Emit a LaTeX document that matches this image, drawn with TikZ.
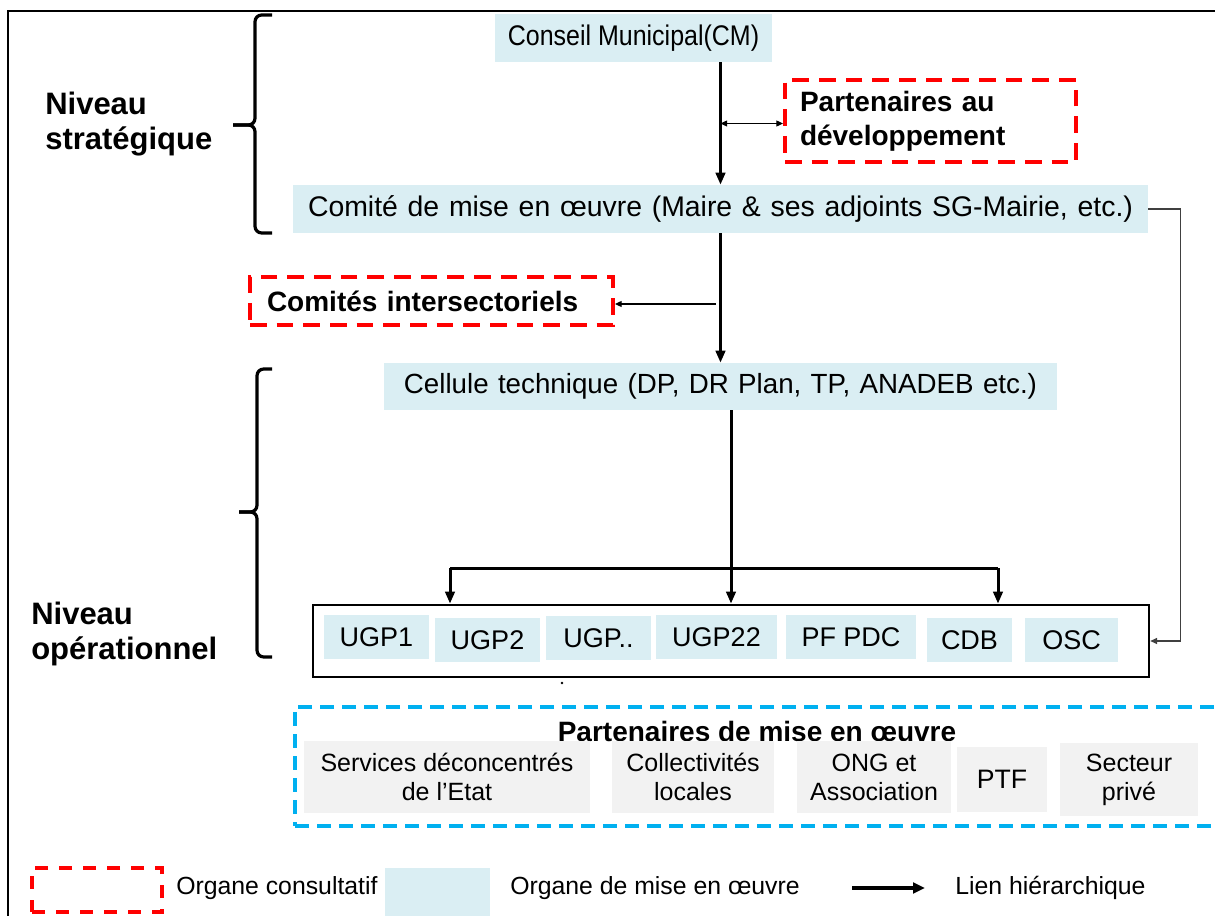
\documentclass[tikz,border=0pt]{standalone}
\usepackage{fontspec}
\setmainfont{Liberation Sans}
\usetikzlibrary{arrows.meta,calc}
\definecolor{implblue}{HTML}{DAEEF3}
\definecolor{partgray}{HTML}{F2F2F2}
\definecolor{consred}{HTML}{FF0000}
\definecolor{partcyan}{HTML}{00B0F0}
\definecolor{linkgray}{HTML}{404040}
\tikzset{
  impl/.style={fill=implblue, draw=none, inner sep=0pt, font=\fontsize{21.3}{25}\selectfont},
  cons/.style={draw=consred, line width=3pt, dash pattern=on 12.5pt off 7.5pt, inner sep=0pt,
    font=\bfseries\fontsize{21}{25.5}\selectfont},
  ugpitem/.style={fill=implblue, draw=none, inner sep=0pt, font=\fontsize{20.25}{24}\selectfont},
  partbox/.style={fill=partgray, draw=none, inner sep=0pt, align=center,
    font=\fontsize{18.75}{21.75}\selectfont},
  harrow/.style={line width=2.25pt, -{Triangle[length=9pt,width=7pt]}},
  tarrow/.style={line width=0.9pt, -{Triangle[length=5pt,width=4.5pt]}},
  tdarrow/.style={line width=0.9pt, {Triangle[length=5pt,width=4.5pt]}-{Triangle[length=5pt,width=4.5pt]}},
  bracestyle/.style={line width=2.4pt, rounded corners=5pt},
  levellabel/.style={anchor=west, align=left, inner sep=0pt, font=\bfseries\fontsize{23.25}{26.25}\selectfont},
  legendtext/.style={anchor=west, inner sep=0pt, font=\fontsize{18.6}{22}\selectfont}
}
\begin{document}
\begin{tikzpicture}[x=0.75pt,y=-0.75pt]
\useasboundingbox (0,0) rectangle (1215,916);
\fill[white] (0,0) rectangle (1215,916);
% outer frame
\draw[line width=1.6pt] (8,916) -- (8,11) -- (1215,11);

% braces and level labels
\draw[bracestyle] (272,15) -- (255,15) -- (255,125) -- (233,125);
\draw[bracestyle] (233,125) -- (255,125) -- (255,233) -- (272,233);
\node[levellabel] (strat) at (45,124) {Niveau\\strat\'egique};

\draw[bracestyle] (272,369) -- (257,369) -- (257,512) -- (239,512);
\draw[bracestyle] (239,512) -- (257,512) -- (257,657) -- (272,657);
\node[levellabel] (oper) at (31,634) {Niveau\\op\'erationnel};

% strategic boxes
\node[impl, minimum width=277*0.75pt, minimum height=48*0.75pt] (cm) at (633.5,38) {\scalebox{0.88}[1]{Conseil Municipal(CM)}};
\node[cons, minimum width=291*0.75pt, minimum height=82*0.75pt, text width=261*0.75pt, align=left] (pad) at (930.5,121) {Partenaires au\\d\'eveloppement};
\node[impl, minimum width=855*0.75pt, minimum height=48*0.75pt] (com) at (720.5,209) {\spaceskip=7.3pt plus 1pt\relax Comit\'e de mise en œuvre (Maire \& ses adjoints SG-Mairie, etc.)};
\node[cons, minimum width=363*0.75pt, minimum height=48*0.75pt, text width=329*0.75pt, align=left] (ci) at (431.5,301) {Comit\'es intersectoriels};
\node[impl, font=\fontsize{20.8}{25}\selectfont, minimum width=673*0.75pt, minimum height=47*0.75pt] (cel) at (720.5,386.5) {\spaceskip=7pt plus 1pt\relax Cellule technique (DP, DR Plan, TP, ANADEB etc.)};

% operational container and items
\node[draw=black, line width=2pt, minimum width=836*0.75pt, minimum height=72*0.75pt, inner sep=0pt] (ugp) at (731,641) {};
\node[ugpitem, minimum width=105*0.75pt, minimum height=44*0.75pt] (u1) at (376.5,637) {UGP1};
\node[ugpitem, minimum width=105*0.75pt, minimum height=44*0.75pt] (u2) at (487.5,640) {UGP2};
\node[ugpitem, minimum width=105*0.75pt, minimum height=44*0.75pt] (u3) at (598.5,638) {UGP..};
\node[ugpitem, minimum width=121*0.75pt, minimum height=44*0.75pt] (u4) at (716.5,637) {UGP22};
\node[ugpitem, minimum width=130*0.75pt, minimum height=44*0.75pt] (u5) at (851,637) {PF PDC};
\node[ugpitem, minimum width=85*0.75pt, minimum height=44*0.75pt] (u6) at (969.5,640) {CDB};
\node[ugpitem, minimum width=93*0.75pt, minimum height=44*0.75pt] (u7) at (1071.5,640) {OSC};
\fill (562,683) circle (1pt);

% connectors
\coordinate (cmfoot) at (cm.south -| com.north);
\draw[harrow] (cmfoot) -- (com.north);
\coordinate (j1) at ($(cmfoot)!0.5!(com.north)$);
\draw[tdarrow] (j1) -- (j1 -| pad.west);
\draw[harrow] (com.south) -- (com.south |- cel.north);
\coordinate (j2) at (716,304);
\draw[tarrow] (j2) -- (j2 -| ci.east);
\draw[harrow] (cel.south -| ugp.north) -- (ugp.north);
\coordinate (bl) at (450,568);
\coordinate (br) at (998,568);
\draw[line width=2.25pt] (bl) -- (br);
\draw[harrow] (bl) -- (bl |- ugp.north);
\draw[harrow] (br) -- (br |- ugp.north);
\draw[tarrow, draw=linkgray] (com.east) -- ++(32,0) |- (ugp.east);

% implementation partners
\node[draw=partcyan, line width=2.3pt, dash pattern=on 10.5pt off 6pt, minimum width=950*0.75pt, minimum height=119*0.75pt, inner sep=0pt] (pmo) at (770,766.5) {};
\node[inner sep=0pt, font=\bfseries\fontsize{21}{25}\selectfont] (ptitle) at (757,731) {Partenaires de mise en œuvre};
\node[partbox, minimum width=286*0.75pt, minimum height=72*0.75pt] (g1) at (447,777) {Services d\'econcentr\'es\\de l’Etat};
\node[partbox, minimum width=162*0.75pt, minimum height=72*0.75pt] (g2) at (693,777) {Collectivit\'es\\locales};
\node[partbox, minimum width=154*0.75pt, minimum height=72*0.75pt] (g3) at (874,777) {ONG et\\Association};
\node[partbox, minimum width=90*0.75pt, minimum height=65*0.75pt, font=\fontsize{20}{24}\selectfont] (g4) at (1002,779.5) {PTF};
\node[partbox, minimum width=138*0.75pt, minimum height=73*0.75pt] (g5) at (1129,779.5) {Secteur\\priv\'e};

% legend
\node[draw=consred, line width=3pt, dash pattern=on 10pt off 8pt, minimum width=130*0.75pt, minimum height=44*0.75pt, inner sep=0pt] (lcons) at (97,890) {};
\node[legendtext] (lconst) at (176,888) {Organe consultatif};
\node[fill=implblue, minimum width=105*0.75pt, minimum height=48*0.75pt, inner sep=0pt] (limpl) at (437.5,892) {};
\node[legendtext] (limplt) at (510,888) {Organe de mise en œuvre};
\coordinate (la1) at (852,888);
\node[legendtext] (llinkt) at (955,888) {Lien hi\'erarchique};
\draw[line width=3pt, -{Triangle[length=9pt,width=8pt]}] (la1) -- ($(llinkt.west)+(-30,0)$);
\end{tikzpicture}
\end{document}
